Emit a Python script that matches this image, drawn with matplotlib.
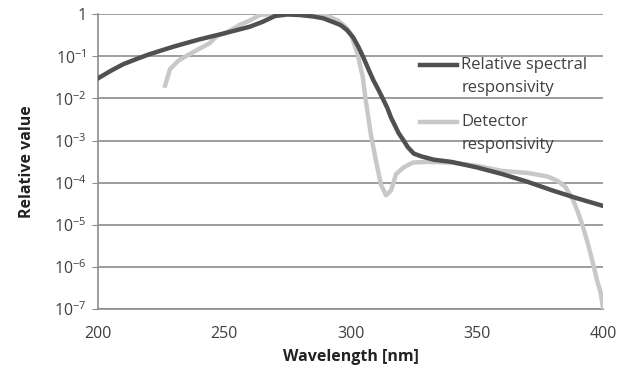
import numpy as np
import matplotlib
matplotlib.use('Agg')
import matplotlib.pyplot as plt
from matplotlib.lines import Line2D
from matplotlib.ticker import FixedLocator, FuncFormatter, NullLocator

# Relative spectral responsivity (dark curve)
wl_rel = [200, 205, 210, 215, 220, 230, 240, 250, 260, 265, 270, 275, 280, 285, 289,
          293, 296, 298.5, 301, 303, 305, 307, 309, 311, 312.7, 314.5, 316, 317.5, 319,
          321, 322.6, 325, 328, 333, 340, 350, 360, 370, 380, 390, 400]
val_rel = [0.03, 0.045, 0.065, 0.085, 0.11, 0.17, 0.25, 0.35, 0.5, 0.65, 0.9, 0.98,
           0.95, 0.88, 0.8, 0.65, 0.55, 0.42, 0.28, 0.17, 0.095, 0.05, 0.027, 0.016,
           0.01, 0.006, 3.5e-3, 2.3e-3, 1.5e-3, 1e-3, 7e-4, 4.9e-4, 4.2e-4, 3.5e-4,
           3.1e-4, 2.3e-4, 1.6e-4, 1.05e-4, 6.5e-5, 4.2e-5, 2.8e-5]

# Detector responsivity (light curve)
wl_det = [226.5, 228.5, 232, 236, 240, 244, 247, 251, 256, 260, 264, 268, 275, 285,
          290, 295, 298, 300, 302.8, 304.8, 306, 308, 310, 312, 314, 316, 318, 321,
          324.6, 330, 340, 350, 360, 370, 378, 382, 385, 388, 390, 392, 394, 396, 397.5,
          399, 400]
val_det = [0.02, 0.05, 0.08, 0.11, 0.15, 0.2, 0.3, 0.37, 0.55, 0.7, 0.95, 1.0, 1.0,
           1.0, 0.95, 0.7, 0.5, 0.35, 0.11, 0.032, 9e-3, 1.4e-3, 3.4e-4, 9e-5, 5e-5,
           6.5e-5, 1.6e-4, 2.3e-4, 3e-4, 3.1e-4, 3e-4, 2.5e-4, 1.9e-4, 1.7e-4, 1.4e-4,
           1.1e-4, 8e-5, 4e-5, 2e-5, 9e-6, 3.5e-6, 1.2e-6, 5e-7, 2.5e-7, 1e-7]

series_labels = [['Relative spectral', 'responsivity'], ['Detector', 'responsivity']]
series_colors = ['#505050', '#c8c8c8']

x_ticks = [200, 250, 300, 350, 400]
y_ticks = [1e-7, 1e-6, 1e-5, 1e-4, 1e-3, 1e-2, 1e-1, 1]

plt.rcParams['font.family'] = ['Open Sans', 'DejaVu Sans']

fig = plt.figure(figsize=(6.25, 3.71), dpi=100)
ax = fig.add_axes([0.157, 0.167, 0.808, 0.795])

ax.plot(wl_det, val_det, color=series_colors[1], lw=3.2, zorder=3)
ax.plot(wl_rel, val_rel, color=series_colors[0], lw=3.2, zorder=4)

ax.set_yscale('log')
ax.set_xlim(200, 400)
ax.set_ylim(1e-7, 1)
ax.xaxis.set_major_locator(FixedLocator(x_ticks))
ax.yaxis.set_major_locator(FixedLocator(y_ticks))
ax.yaxis.set_minor_locator(NullLocator())

def fmt(v, pos):
    e = int(round(np.log10(v)))
    if e == 0:
        return '1'
    return r'$\mathregular{10^{%d}}$' % e

ax.yaxis.set_major_formatter(FuncFormatter(fmt))
ax.grid(axis='y', color='#8c8c8c', lw=1.2)
ax.set_axisbelow(True)

for s in ['top', 'right']:
    ax.spines[s].set_visible(False)
for s in ['left', 'bottom']:
    ax.spines[s].set_color('#8c8c8c')
    ax.spines[s].set_linewidth(1.2)

ax.tick_params(axis='y', length=4, color='#8c8c8c', labelsize=11.5, labelcolor='#404040', pad=4)
ax.tick_params(axis='x', length=0, labelsize=11.5, labelcolor='#404040', pad=12)

ax.set_xlabel('Wavelength [nm]', fontsize=11.5, fontweight='bold', color='#222222', labelpad=5)
ax.set_ylabel('Relative value', fontsize=11.5, fontweight='bold', color='#222222', labelpad=14)

# legend drawn by hand: Excel style, sample line level with the first text line
leg_y = [0.827, 0.634]
for (l1, l2), c, y0 in zip(series_labels, series_colors, leg_y):
    ax.add_line(Line2D([0.638, 0.711], [y0, y0], transform=ax.transAxes,
                       color=c, lw=3.2, zorder=5, clip_on=False))
    ax.text(0.719, y0, l1, transform=ax.transAxes, va='center', ha='left',
            fontsize=12, color='#404040', zorder=6)
    ax.text(0.719, y0 - 0.078, l2, transform=ax.transAxes, va='center', ha='left',
            fontsize=12, color='#404040', zorder=6)

fig.savefig('out.png', dpi=100)
